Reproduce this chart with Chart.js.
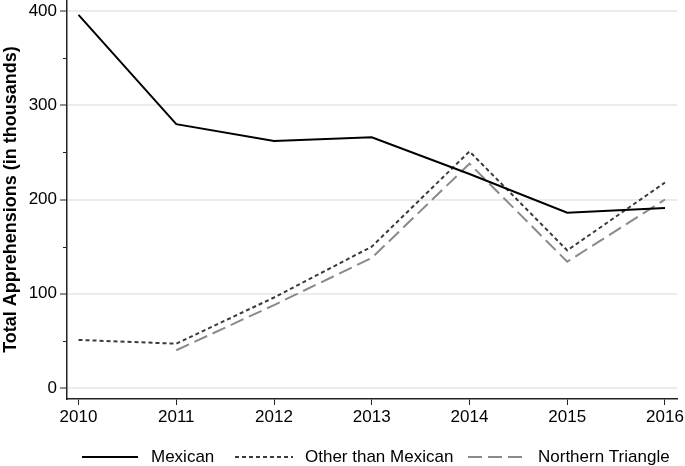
<!DOCTYPE html>
<html>
<head>
<meta charset="utf-8">
<script src="https://cdn.jsdelivr.net/npm/chart.js@4"></script>
<style>
  html, body { margin: 0; padding: 0; background: #fff; }
  #wrap { width: 685px; height: 466px; }
</style>
</head>
<body>
<div id="wrap"><canvas id="chart" width="685" height="466"></canvas></div>
<script>
// ─── Data ───
const years = [2010, 2011, 2012, 2013, 2014, 2015, 2016];
const mexican = [396, 280, 262, 266, 227, 186, 191];
const otherThanMexican = [51, 47, 96, 150, 251, 146, 218];
const northernTriangle = [null, 40, 88, 138, 238, 134, 200];
const seriesNames = ['Mexican', 'Other than Mexican', 'Northern Triangle'];
const yTicks = [0, 50, 100, 150, 200, 250, 300, 350, 400];
const yTitle = 'Total Apprehensions (in thousands)';

const FONT = 'Arial, "Liberation Sans", Helvetica, sans-serif';

const toPoints = arr => years.map((yr, i) => ({ x: yr, y: arr[i] }));
const isMajor = v => v % 100 === 0;

// legend under the plot, drawn by hand so it sits where the original does
const legendSpots = [
    { x0: 82, x1: 138, tx: 151 },
    { x0: 235, x1: 293, tx: 305 },
    { x0: 468, x1: 526, tx: 538 }
];
const bottomLegend = {
    id: 'bottomLegend',
    afterDraw(chart) {
        const ctx = chart.ctx;
        const y = 457;
        ctx.save();
        chart.data.datasets.forEach((ds, i) => {
            const s = legendSpots[i];
            ctx.beginPath();
            ctx.setLineDash(ds.borderDash || []);
            ctx.strokeStyle = ds.borderColor;
            ctx.lineWidth = ds.borderWidth;
            ctx.moveTo(s.x0, y);
            ctx.lineTo(s.x1, y);
            ctx.stroke();
            ctx.setLineDash([]);
            ctx.fillStyle = '#000';
            ctx.font = `17px ${FONT}`;
            ctx.textBaseline = 'middle';
            ctx.fillText(ds.label, s.tx, y);
        });
        ctx.restore();
    }
};

// shorter ticks for the 50s on the y axis
const minorTicks = {
    id: 'minorTicks',
    afterDraw(chart) {
        const sc = chart.scales.y;
        const ctx = chart.ctx;
        ctx.save();
        ctx.strokeStyle = '#222';
        ctx.lineWidth = 1;
        sc.ticks.forEach(t => {
            if (isMajor(t.value)) return;
            const py = Math.round(sc.getPixelForValue(t.value)) + 0.5;
            ctx.beginPath();
            ctx.moveTo(sc.right - 4, py);
            ctx.lineTo(sc.right, py);
            ctx.stroke();
        });
        ctx.restore();
    }
};

const chart = new Chart(document.getElementById('chart'), {
    type: 'line',
    data: {
        datasets: [
            {
                label: seriesNames[0],
                data: toPoints(mexican),
                borderColor: '#000000',
                borderWidth: 2,
                pointRadius: 0,
                tension: 0
            },
            {
                label: seriesNames[1],
                data: toPoints(otherThanMexican),
                borderColor: '#3a3a3a',
                borderWidth: 2,
                borderDash: [4, 3],
                pointRadius: 0,
                tension: 0
            },
            {
                label: seriesNames[2],
                data: toPoints(northernTriangle),
                borderColor: '#8a8a8a',
                borderWidth: 2,
                borderDash: [14, 6],
                pointRadius: 0,
                tension: 0
            }
        ]
    },
    options: {
        responsive: false,
        animation: false,
        devicePixelRatio: 1,
        layout: { padding: { top: 0, right: 8, bottom: 0, left: 0 } },
        plugins: {
            legend: { display: false },
            tooltip: { enabled: false }
        },
        scales: {
            x: {
                type: 'linear',
                min: 2009.882,
                max: 2016.123,
                afterBuildTicks: s => { s.ticks = years.map(v => ({ value: v })); },
                afterFit: s => { s.height = 67; s.paddingLeft = 0; s.paddingRight = 0; },
                border: { display: true, color: '#222', width: 1.5 },
                grid: { display: true, drawOnChartArea: false, tickLength: 6, tickColor: '#222' },
                ticks: {
                    color: '#000',
                    font: { family: FONT, size: 17 },
                    padding: 2,
                    maxRotation: 0,
                    callback: v => String(v)
                }
            },
            y: {
                min: -11.7,
                max: 411.7,
                afterBuildTicks: s => { s.ticks = yTicks.map(v => ({ value: v })); },
                afterFit: s => { s.width = 67; s.paddingTop = 0; s.paddingBottom = 0; },
                border: { display: true, color: '#222', width: 1.5 },
                grid: {
                    tickLength: 7,
                    color: ctx => (ctx.tick && isMajor(ctx.tick.value)) ? '#ebebeb' : 'rgba(0,0,0,0)',
                    lineWidth: 2,
                    tickColor: ctx => (ctx.tick && isMajor(ctx.tick.value)) ? '#222' : 'rgba(0,0,0,0)',
                    tickWidth: 1
                },
                ticks: {
                    color: '#000',
                    font: { family: FONT, size: 17 },
                    padding: 3,
                    callback: v => (isMajor(v) ? String(v) : '')
                },
                title: {
                    display: true,
                    text: yTitle,
                    color: '#000',
                    font: { family: FONT, size: 18, weight: 'bold' },
                    padding: { top: 0, bottom: 1 }
                }
            }
        }
    },
    plugins: [bottomLegend, minorTicks]
});
</script>
</body>
</html>
